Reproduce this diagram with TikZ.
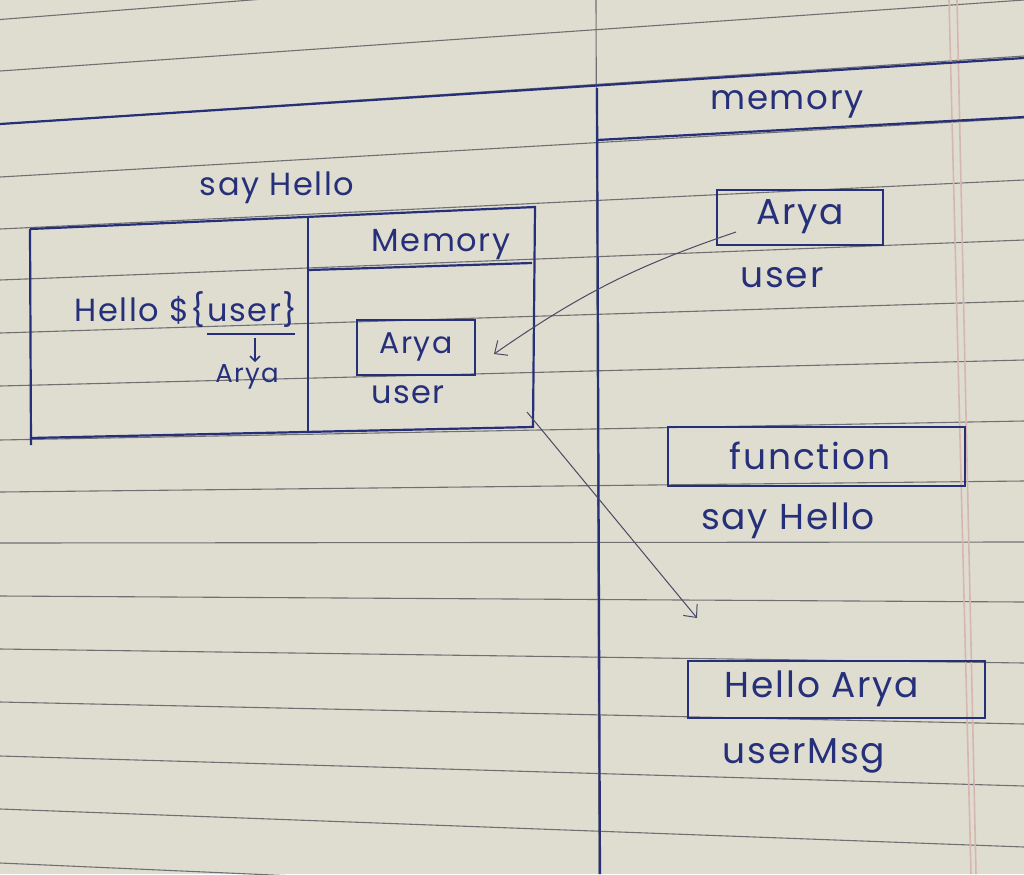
\documentclass[tikz,border=0pt]{standalone}
\usepackage{fontspec}
\usepackage{xcolor}
\usepackage{tikz}
\usetikzlibrary{arrows.meta,positioning,calc}
\newfontfamily\handfont{Poppins}[LetterSpace=5]
\newcommand{\handsz}[1]{\handfont\fontsize{#1}{#1}\selectfont}
\definecolor{paper}{RGB}{223,221,207}
\definecolor{rulegray}{RGB}{112,112,114}
\definecolor{marginpink}{RGB}{214,182,176}
\definecolor{inkblue}{RGB}{38,48,122}
\definecolor{pencil}{RGB}{72,74,102}

\begin{document}
\begin{tikzpicture}[
    x=0.5pt, y=-0.5pt,
    paperline/.style={draw=rulegray, line width=0.55pt},
    ink/.style={draw=inkblue, line width=1.1pt},
    hand/.style={text=inkblue, font=\handsz{16}, inner sep=1pt},
    bighand/.style={hand, font=\handsz{18}},
    valbox/.style={bighand, draw=inkblue, line width=1pt},
    pointer/.style={draw=pencil, line width=0.5pt,
                    -{Straight Barb[length=5pt,width=9pt]}},
  ]

  % sheet of ruled paper
  \path[use as bounding box, fill=paper] (0,0) rectangle (1024,874);
  \clip (0,0) rectangle (1024,874);
  \draw[paperline] (0,19.5) -- (1024,-60)  (0,71) -- (1024,0)
                   (0,124) -- (1024,56)    (0,177) -- (1024,118)
                   (0,229) -- (1024,180)   (0,280) -- (1024,240)
                   (0,333) -- (1024,301)   (0,386) -- (1024,360)
                   (0,440) -- (1024,421)   (0,492) -- (1024,481)
                   (0,543) -- (1024,542)   (0,596) -- (1024,602)
                   (0,649) -- (1024,663)   (0,702) -- (1024,724)
                   (0,756) -- (1024,786)   (0,809) -- (1024,847)
                   (0,863) -- (1024,908);
  \draw[paperline] (596,0) -- (599,874);
  \draw[marginpink, line width=0.8pt] (949,0) -- (971,874) (957,0) -- (976,874);

  % page split
  \draw[ink] (0,124) -- (1024,58);
  \draw[ink] (597,88) -- (600,874);
  \draw[ink] (597,140) -- (1024,117);

  % function frame
  \draw[ink] (30,229) -- (535,207) -- (533,427) -- (30,438);
  \draw[ink] (30,229) -- (31,445);
  \draw[ink] (308,218) -- (308,432);
  \draw[ink] (309,270) -- (532,263);

  \node[hand] (fname) at (277,188) {say Hello};
  \node[hand] (memhead) at (441,245) {Memory};
  \node[hand] (tmpl) at (186,310) {Hello \$\{user\}};

  \coordinate (rule-w) at (207,334);
  \coordinate (rule-e) at (295,334);
  \coordinate (rule-m) at (255,338);
  \draw[ink, line width=0.8pt] (rule-w) -- (rule-e);

  \node[hand, font=\handsz{13}] (argval) at (247,377) {Arya};
  \draw[draw=inkblue, line width=0.8pt, -{Straight Barb[length=2.5pt,width=5pt]}]
    (rule-m) -- (rule-m |- argval.north);

  \node[valbox, font=\handsz{15}, minimum width=59pt, minimum height=27.5pt]
    (iarya) at (416,347) {Arya};
  \node[hand, below=4pt of iarya, xshift=-4pt] (iuser) {user};

  % global memory
  \node[bighand, font=\handsz{17}] (memtitle) at (787,104) {memory};

  \node[valbox, minimum width=83pt, minimum height=27.5pt]
    (rarya) at (800,217) {Arya};
  \node[bighand, below=10pt of rarya, xshift=-9pt] (ruser) {user};

  \node[valbox, minimum width=148.5pt, minimum height=29.5pt]
    (func) at (816,456) {function\hspace*{6pt}};
  \node[bighand, below=7pt of func, xshift=-14pt] (fnname) {say Hello};

  \node[valbox, minimum width=148.5pt, minimum height=28.5pt]
    (outmsg) at (836,689) {Hello Arya\hspace*{14pt}};
  \node[bighand, below=9pt of outmsg, xshift=-16pt] (outname) {userMsg};

  % arrows
  \coordinate (fr-se) at (527,412);
  \coordinate (call) at (697,618);
  \draw[pointer] ([shift={(10pt,-7.5pt)}]rarya.west) to[bend right=8]
    ([shift={(9pt,-3.5pt)}]iarya.east);
  \draw[pointer] (fr-se) -- (call);

\end{tikzpicture}
\end{document}
